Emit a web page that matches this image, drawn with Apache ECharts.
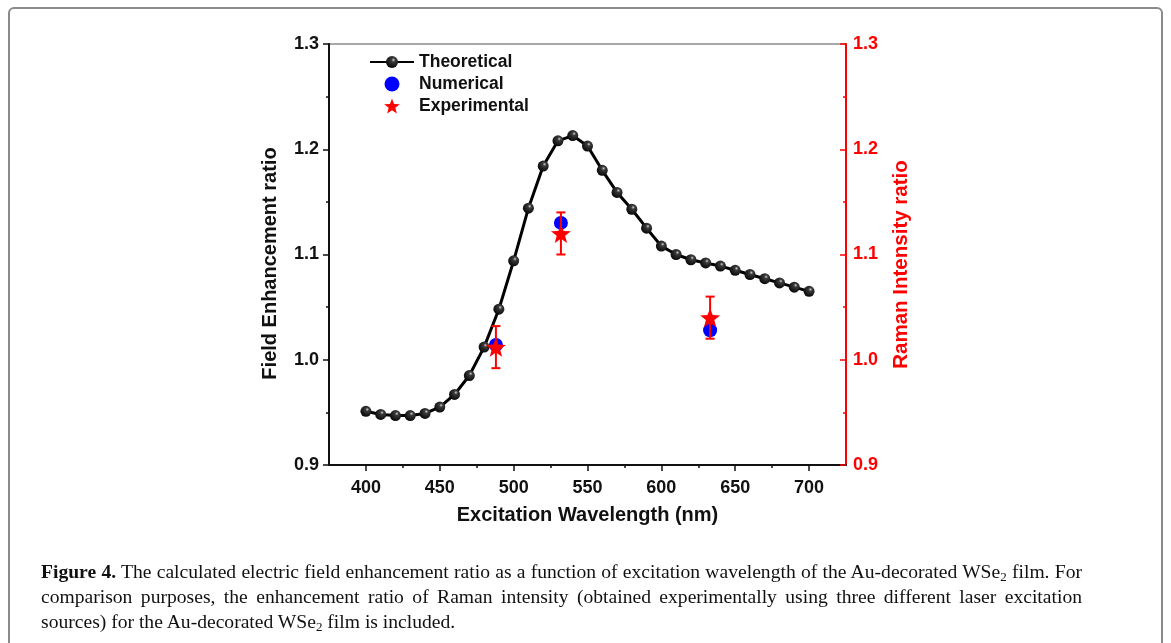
<!DOCTYPE html>
<html>
<head>
<meta charset="utf-8">
<script src="https://cdn.jsdelivr.net/npm/echarts@6/dist/echarts.min.js"></script>
<style>
  html, body { margin: 0; padding: 0; background: #fff; }
  #wrap { position: relative; width: 1171px; height: 643px; overflow: hidden; }
  #frame { position: absolute; left: 8px; top: 7px; width: 1155px; height: 660px;
           border: 2px solid #8a8a8a; border-radius: 6px; box-sizing: border-box; }
  #chart { position: absolute; left: 0; top: 0; width: 1171px; height: 643px; }
  .cap { position: absolute; left: 41px; width: 1041px; font-family: "Liberation Serif", "DejaVu Serif", serif;
         font-size: 19.6px; line-height: 25px; color: #111; white-space: nowrap; }
  .just { text-align: justify; text-align-last: justify; }
  .cap sub { font-size: 13px; vertical-align: -3px; line-height: 0; }
</style>
</head>
<body>
<div id="wrap">
  <div id="frame"></div>
  <div id="chart"></div>
  <div class="cap just" style="top:559px;"><b>Figure 4.</b> The calculated electric field enhancement ratio as a function of excitation wavelength of the Au-decorated WSe<sub>2</sub> film. For</div>
  <div class="cap just" style="top:584px;">comparison purposes, the enhancement ratio of Raman intensity (obtained experimentally using three different laser excitation</div>
  <div class="cap" style="top:609px;">sources) for the Au-decorated WSe<sub>2</sub> film is included.</div>
</div>
<script>
// ---- data ----
const wavelengths = [400, 410, 420, 430, 440, 450, 460, 470, 480, 490, 500, 510, 520, 530, 540, 550,
                     560, 570, 580, 590, 600, 610, 620, 630, 640, 650, 660, 670, 680, 690, 700];
const theoretical = [0.951, 0.948, 0.947, 0.947, 0.949, 0.955, 0.967, 0.985, 1.012, 1.048, 1.094,
                     1.144, 1.184, 1.208, 1.213, 1.203, 1.180, 1.159, 1.143, 1.125, 1.108, 1.100,
                     1.095, 1.092, 1.089, 1.085, 1.081, 1.077, 1.073, 1.069, 1.065];
const laserWavelengths = [488, 532, 633];
const numerical = [1.014, 1.130, 1.028];
const experimental = [1.012, 1.120, 1.040];
const experimentalErr = [0.020, 0.020, 0.020];
const xMajorTicks = [400, 450, 500, 550, 600, 650, 700];
const xMinorTicks = [425, 475, 525, 575, 625, 675];

const FONT = '"Liberation Sans", Arial, sans-serif';
const starPath = 'path://M50 0 L62.34 33.01 L97.55 34.55 L69.97 56.49 L79.39 90.45 L50 71 L20.61 90.45 L30.03 56.49 L2.45 34.55 L37.66 33.01 Z';
const sphere = { type: 'radial', x: 0.62, y: 0.33, r: 0.75,
  colorStops: [{ offset: 0, color: '#cfcfcf' }, { offset: 0.22, color: '#3a3a3a' }, { offset: 1, color: '#000' }] };

const theoData = wavelengths.map((w, i) => [w, theoretical[i]]);
const numData = laserWavelengths.map((w, i) => [w, numerical[i]]);
const expData = laserWavelengths.map((w, i) => [w, experimental[i]]);
const errData = laserWavelengths.map((w, i) => [w, experimental[i], experimental[i] - experimentalErr[i], experimental[i] + experimentalErr[i]]);

const chart = echarts.init(document.getElementById('chart'), null, { renderer: 'canvas' });
chart.setOption({
  animation: false,
  backgroundColor: 'transparent',
  grid: { left: 329, right: 325, top: 44, bottom: 178, show: true, borderColor: '#8c8c8c', borderWidth: 1.5 },
  legend: {
    orient: 'vertical', left: 369, top: 53, padding: 0, itemWidth: 44, itemHeight: 15, itemGap: 4,
    textStyle: { fontFamily: FONT, fontWeight: 'bold', fontSize: 17.5, color: '#111', lineHeight: 18 },
    data: ['Theoretical', 'Numerical', 'Experimental']
  },
  xAxis: [{
    type: 'value', min: 375, max: 725, interval: 25, position: 'bottom',
    name: 'Excitation Wavelength (nm)', nameLocation: 'middle', nameGap: 40,
    nameTextStyle: { fontFamily: FONT, fontWeight: 'bold', fontSize: 20, color: '#111' },
    axisLine: { show: true, lineStyle: { color: '#111', width: 2 } },
    axisTick: { show: true, length: 6, customValues: xMajorTicks, lineStyle: { color: '#111', width: 1.5 } },
    axisLabel: { customValues: xMajorTicks, margin: 14, fontFamily: FONT, fontWeight: 'bold', fontSize: 18, color: '#111' },
    splitLine: { show: false }
  }, {
    type: 'value', min: 375, max: 725, interval: 25, position: 'bottom',
    axisLine: { show: false },
    axisTick: { show: true, length: 3, customValues: xMinorTicks, lineStyle: { color: '#111', width: 1.5 } },
    axisLabel: { show: false },
    splitLine: { show: false }
  }],
  yAxis: [{
    type: 'value', min: 0.9, max: 1.3, interval: 0.1, position: 'left',
    name: 'Field Enhancement ratio', nameLocation: 'middle', nameRotate: 90, nameGap: 49,
    nameTextStyle: { fontFamily: FONT, fontWeight: 'bold', fontSize: 20, color: '#111', padding: [0, 18, 0, 0] },
    axisLine: { show: true, lineStyle: { color: '#111', width: 2 } },
    axisTick: { show: true, length: 6, lineStyle: { color: '#111', width: 1.5 } },
    minorTick: { show: true, splitNumber: 2, length: 3, lineStyle: { color: '#111', width: 1.5 } },
    axisLabel: { margin: 10, fontFamily: FONT, fontWeight: 'bold', fontSize: 18, color: '#111', formatter: v => v.toFixed(1) },
    splitLine: { show: false }
  }, {
    type: 'value', min: 0.9, max: 1.3, interval: 0.1, position: 'right',
    name: 'Raman Intensity ratio', nameLocation: 'middle', nameRotate: 90, nameGap: 45,
    nameTextStyle: { fontFamily: FONT, fontWeight: 'bold', fontSize: 20.5, color: '#ff0000', padding: [0, 20, 0, 0] },
    axisLine: { show: true, lineStyle: { color: '#ff0000', width: 2 } },
    axisTick: { show: true, inside: true, length: 6, lineStyle: { color: '#ff0000', width: 1.5 } },
    minorTick: { show: true, splitNumber: 2, length: 3, lineStyle: { color: '#ff0000', width: 1.5 } },
    axisLabel: { margin: 7, fontFamily: FONT, fontWeight: 'bold', fontSize: 18, color: '#ff0000', formatter: v => v.toFixed(1) },
    splitLine: { show: false }
  }],
  series: [{
    name: 'Theoretical', type: 'line', xAxisIndex: 0, yAxisIndex: 0, data: theoData, z: 2,
    symbol: 'circle', symbolSize: 11, showAllSymbol: true,
    lineStyle: { color: '#000', width: 3 },
    itemStyle: { color: sphere, borderWidth: 0 }
  }, {
    name: 'Numerical', type: 'scatter', xAxisIndex: 0, yAxisIndex: 0, data: numData, z: 3,
    symbol: 'circle', symbolSize: 14,
    itemStyle: { color: '#0000ff', opacity: 1 }
  }, {
    name: 'ErrorBars', type: 'custom', xAxisIndex: 0, yAxisIndex: 1, data: errData, z: 4,
    silent: true,
    renderItem: function (params, api) {
      const x = api.value(0);
      const lo = api.coord([x, api.value(2)]);
      const hi = api.coord([x, api.value(3)]);
      const cap = 4.5;
      const st = { stroke: '#ff0000', lineWidth: 2 };
      return { type: 'group', children: [
        { type: 'line', shape: { x1: lo[0], y1: lo[1], x2: hi[0], y2: hi[1] }, style: st },
        { type: 'line', shape: { x1: lo[0] - cap, y1: lo[1], x2: lo[0] + cap, y2: lo[1] }, style: st },
        { type: 'line', shape: { x1: hi[0] - cap, y1: hi[1], x2: hi[0] + cap, y2: hi[1] }, style: st }
      ] };
    }
  }, {
    name: 'Experimental', type: 'scatter', xAxisIndex: 0, yAxisIndex: 1, data: expData, z: 5,
    symbol: starPath, symbolSize: 20, symbolKeepAspect: true,
    itemStyle: { color: '#ff0000', opacity: 1 }
  }]
});
</script>
</body>
</html>
